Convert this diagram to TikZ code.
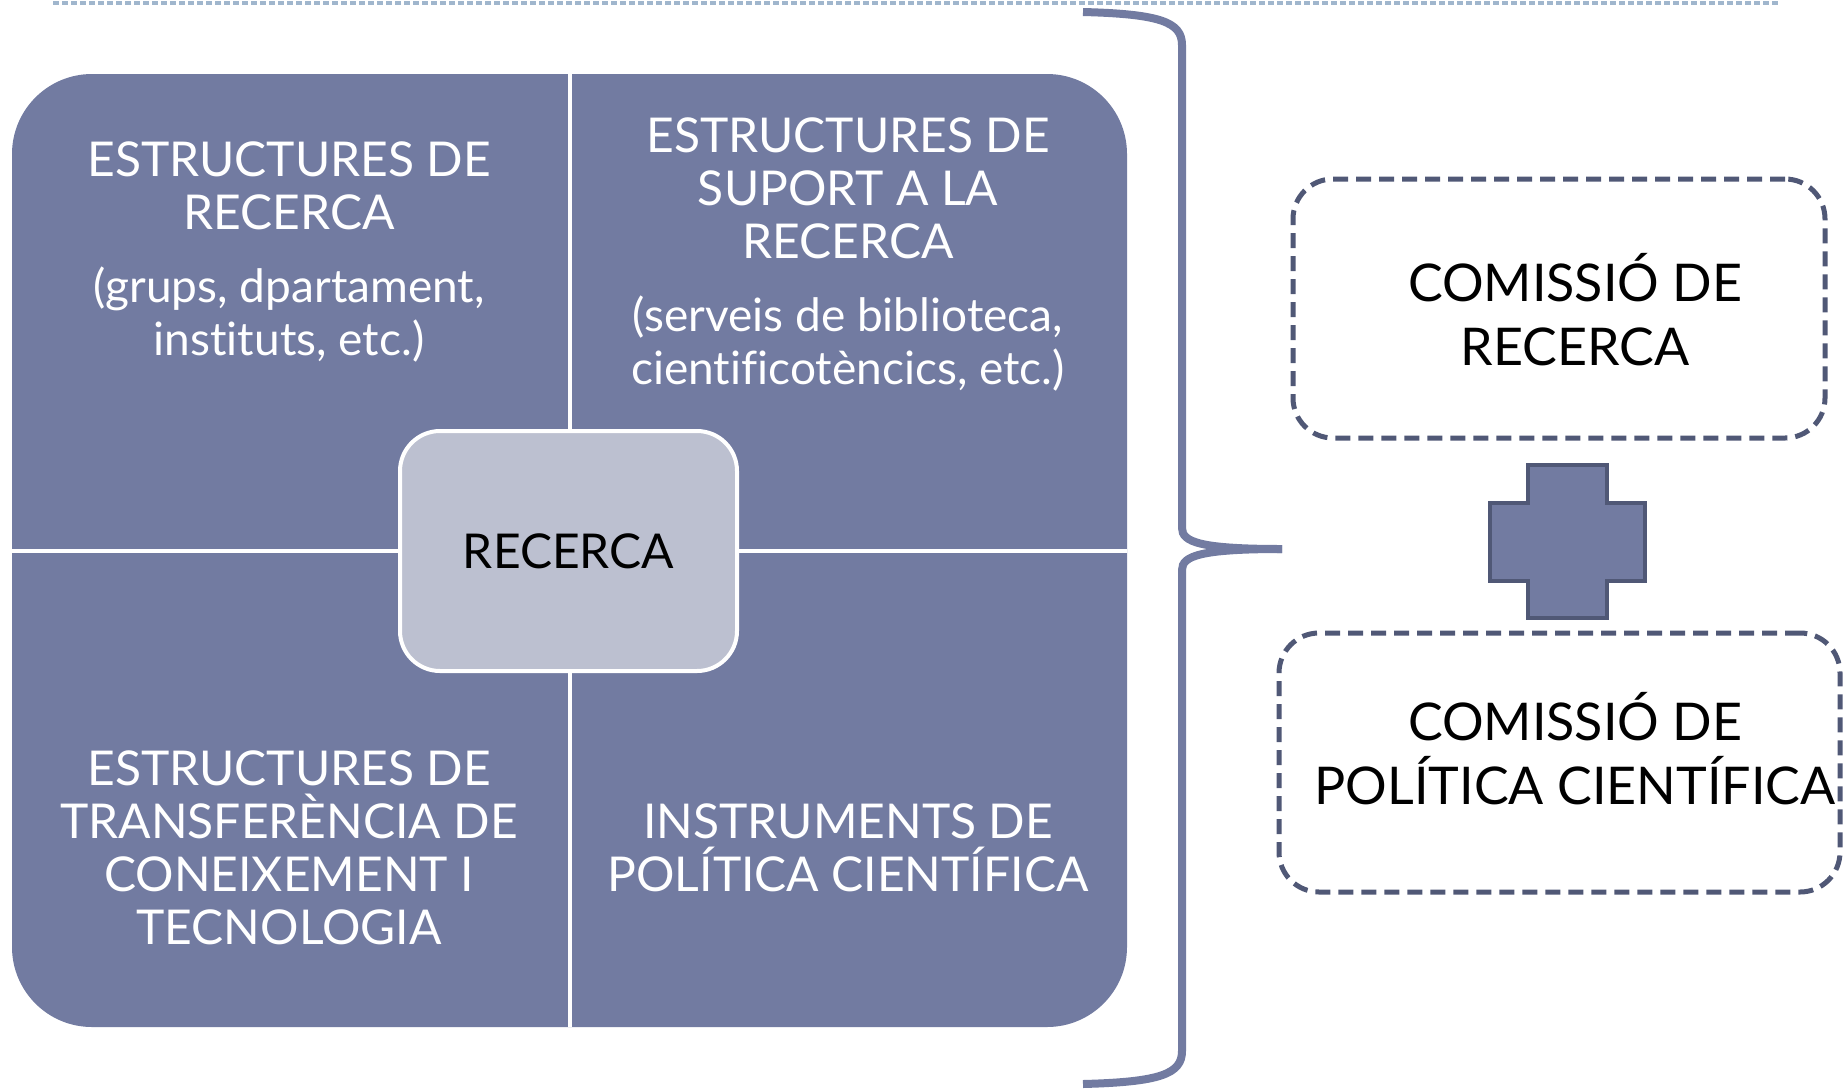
\documentclass[tikz,border=0pt]{standalone}
\usepackage{fontspec}
\setmainfont{Lato}[Ligatures=CommonOff]
\definecolor{panelblue}{RGB}{114,123,161}
\definecolor{corelight}{RGB}{188,192,208}
\definecolor{edgeslate}{RGB}{80,88,118}
\definecolor{ruleblue}{RGB}{160,182,205}
\usepackage{tikz}
\usetikzlibrary{positioning,calc}
\newcommand{\subsize}{\fontsize{23}{26.5}\selectfont}

\begin{document}
\begin{tikzpicture}[x=0.5pt, y=-0.5pt, every node/.style={font=\fontsize{24}{26.5}\selectfont, align=center},
                    quadtext/.style={text=white},
                    commbox/.style={draw=edgeslate, line width=2.5pt, dash pattern=on 7.5pt off 4pt, rounded corners=20pt, minimum width=#1, minimum height=129.5pt},
                    commtext/.style={font=\fontsize{26}{32}\selectfont},
                    brace/.style={draw=panelblue, line width=4pt}]
                    \useasboundingbox (0,0) rectangle (1847,1088);
                    \draw[ruleblue, line width=2pt, dash pattern=on 3pt off 1.5pt] (53,3) -- (1781,3);
                    % quadrants
                    \node[fill=panelblue, rounded corners=40pt, minimum width=557.5pt, minimum height=476.5pt] (panel) at (569.5,550.5) {};
                    \draw[white, line width=2pt] (panel.north) -- (panel.south);
                    \draw[white, line width=2pt] (panel.west) -- (panel.east);
                    \node[quadtext] (groups) at (289,252) {ESTRUCTURES DE\\RECERCA\\[10pt]\subsize(grups, dpartament,\\\subsize instituts, etc.)};
                    \node[quadtext] (support) at (848,254) {ESTRUCTURES DE\\SUPORT A LA\\RECERCA\\[10pt]\subsize(serveis de biblioteca,\\\subsize cientificotèncics, etc.)};
                    \node[quadtext] (transfer) at (289,847.5) {ESTRUCTURES DE\\TRANSFERÈNCIA DE\\CONEIXEMENT I\\TECNOLOGIA};
                    \node[quadtext] (policy) at (848,847.5) {INSTRUMENTS DE\\POLÍTICA CIENTÍFICA};
                    \node[draw=white, line width=2pt, fill=corelight, rounded corners=20pt, minimum width=168.5pt, minimum height=120pt] (core) at (568.5,551) {RECERCA};
                    % brace
                    \draw[brace] (1083,12) .. controls (1160,14) and (1182,22) .. (1182,45) -- (1182,528) .. controls (1182,542) and (1200,549) .. (1282,549);
                    \draw[brace] (1083,1084) .. controls (1160,1082) and (1182,1074) .. (1182,1051) -- (1182,570) .. controls (1182,556) and (1200,549) .. (1282,549);
                    % commissions
                    \node[commbox=266pt] (resbox) at (1559,308.5) {};
                    \node[commtext] (restext) at (1575,310) {COMISSIÓ DE\\RECERCA};
                    \node[commbox=280.5pt] (polbox) at (1559.5,762.5) {};
                    \node[commtext] (poltext) at (1575,749) {COMISSIÓ DE\\POLÍTICA CIENTÍFICA};
                    \draw[fill=panelblue, draw=edgeslate, line width=2pt] (1528,465) -- (1607,465) -- (1607,503) -- (1645,503) -- (1645,581) -- (1607,581)
                        -- (1607,618) -- (1528,618) -- (1528,581) -- (1490,581) -- (1490,503) -- (1528,503) -- cycle;
                \end{tikzpicture}
\end{document}
